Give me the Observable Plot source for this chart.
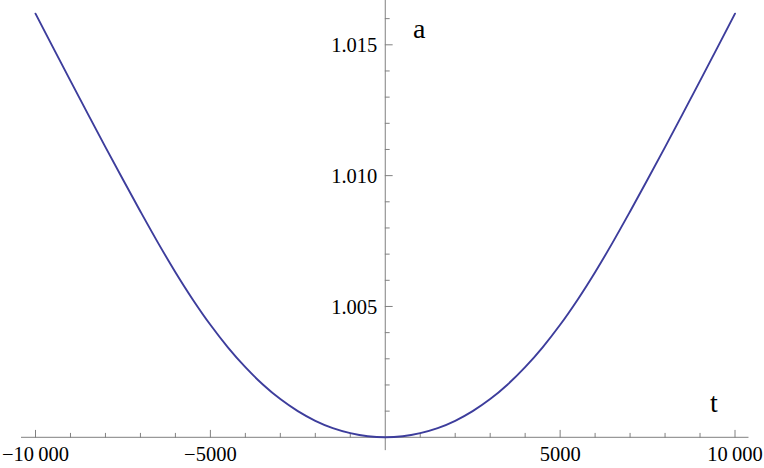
<!DOCTYPE html>
<html><head><meta charset="utf-8">
<script src="https://cdn.jsdelivr.net/npm/d3@7"></script>
<script src="https://cdn.jsdelivr.net/npm/@observablehq/plot@0.6"></script>
<style>
html,body{margin:0;padding:0;background:#fff;}
svg{display:block}
svg text, svg tspan { font-family: "Liberation Serif", "Times New Roman", Times, serif !important; }
</style>
</head><body><div id="chart"></div>
<script>
// Curve samples
const tValues = [-10000, -9500, -9000, -8500, -8000, -7500, -7000, -6500, -6000, -5500, -5000,
  -4500, -4000, -3500, -3000, -2500, -2000, -1500, -1000, -500, 0,
  500, 1000, 1500, 2000, 2500, 3000, 3500, 4000, 4500, 5000,
  5500, 6000, 6500, 7000, 7500, 8000, 8500, 9000, 9500, 10000];
const aValues = [1.01619, 1.01490, 1.01362, 1.01235, 1.01109, 1.00985, 1.00863, 1.00744, 1.00631, 1.00526, 1.00430,
  1.00344, 1.00268, 1.00202, 1.00146, 1.00100, 1.00063, 1.00035, 1.00016, 1.00004, 1.00000,
  1.00004, 1.00016, 1.00035, 1.00063, 1.00100, 1.00146, 1.00202, 1.00268, 1.00344, 1.00430,
  1.00526, 1.00631, 1.00744, 1.00863, 1.00985, 1.01109, 1.01235, 1.01362, 1.01490, 1.01619];

// Axes
const xDomain = [-10000, 10000];
const yDomain = [1.000, 1.015];
const xAxisExtent = [-10400, 10400];
const yAxisExtent = [0.99949, 1.01670];
const xMajorTicks = [-10000, -5000, 5000, 10000];
const xMajorLabels = ["\u221210\u2009000", "\u22125000", "5000", "10\u2009000"];
const xMinorTicks = [-9000, -8000, -7000, -6000, -4000, -3000, -2000, -1000,
  1000, 2000, 3000, 4000, 6000, 7000, 8000, 9000];
const yMajorTicks = [1.005, 1.010, 1.015];
const yMajorLabels = ["1.005", "1.010", "1.015"];
const yMinorTicks = [1.001, 1.002, 1.003, 1.004, 1.006, 1.007, 1.008, 1.009,
  1.011, 1.012, 1.013, 1.014, 1.016];
const xLabel = "t";
const yLabel = "a";

const data = tValues.map((t, i) => ({t, a: aValues[i]}));
const axisColor = "#808080";
const curveColor = "#3d3d9c";
const font = "Liberation Serif";
const tickShape = {draw(context, l) { context.moveTo(0, 0); context.lineTo(0, -l); }};

const chart = Plot.plot({
  width: 764,
  height: 468,
  margin: 0,
  style: {background: "#fff", fontFamily: font, color: "#000"},
  x: {domain: xDomain, range: [35, 734.5], axis: null},
  y: {domain: yDomain, range: [436.8, 44.3], axis: null},
  marks: [
    // axis lines
    Plot.ruleY([yDomain[0]], {x1: xAxisExtent[0], x2: xAxisExtent[1], stroke: axisColor, strokeWidth: 1}),
    Plot.ruleX([0], {y1: yAxisExtent[0], y2: yAxisExtent[1], stroke: axisColor, strokeWidth: 1}),
    // x ticks
    Plot.vector(xMajorTicks, {x: d => d, y: yDomain[0], length: 7, rotate: 0, anchor: "start", shape: tickShape, stroke: axisColor, strokeWidth: 1}),
    Plot.vector(xMinorTicks, {x: d => d, y: yDomain[0], length: 4, rotate: 0, anchor: "start", shape: tickShape, stroke: axisColor, strokeWidth: 1}),
    // y ticks
    Plot.vector(yMajorTicks, {x: 0, y: d => d, length: 7, rotate: 90, anchor: "start", shape: tickShape, stroke: axisColor, strokeWidth: 1}),
    Plot.vector(yMinorTicks, {x: 0, y: d => d, length: 4, rotate: 90, anchor: "start", shape: tickShape, stroke: axisColor, strokeWidth: 1}),
    // tick labels
    Plot.text(xMajorTicks, {x: d => d, y: yDomain[0], text: (d, i) => xMajorLabels[i], lineAnchor: "top", dy: 9, fontSize: 20.5, fontFamily: font, fill: "#000"}),
    Plot.text(yMajorTicks, {x: 0, y: d => d, text: (d, i) => yMajorLabels[i], textAnchor: "end", lineAnchor: "middle", dx: -8, dy: 1, fontSize: 20.5, fontFamily: font, fill: "#000"}),
    // axis labels
    Plot.text([yLabel], {x: 0, y: yAxisExtent[1], text: d => d, dx: 34, dy: 29, lineAnchor: "middle", fontSize: 28, fontFamily: font, fill: "#000"}),
    Plot.text([xLabel], {x: xDomain[1], y: yDomain[0], text: d => d, dx: -21, dy: -34, lineAnchor: "middle", fontSize: 28, fontFamily: font, fill: "#000"}),
    // curve
    Plot.line(data, {x: "t", y: "a", stroke: curveColor, strokeWidth: 1.9, curve: "catmull-rom"})
  ]
});
document.getElementById("chart").appendChild(chart);
</script>
</body></html>
